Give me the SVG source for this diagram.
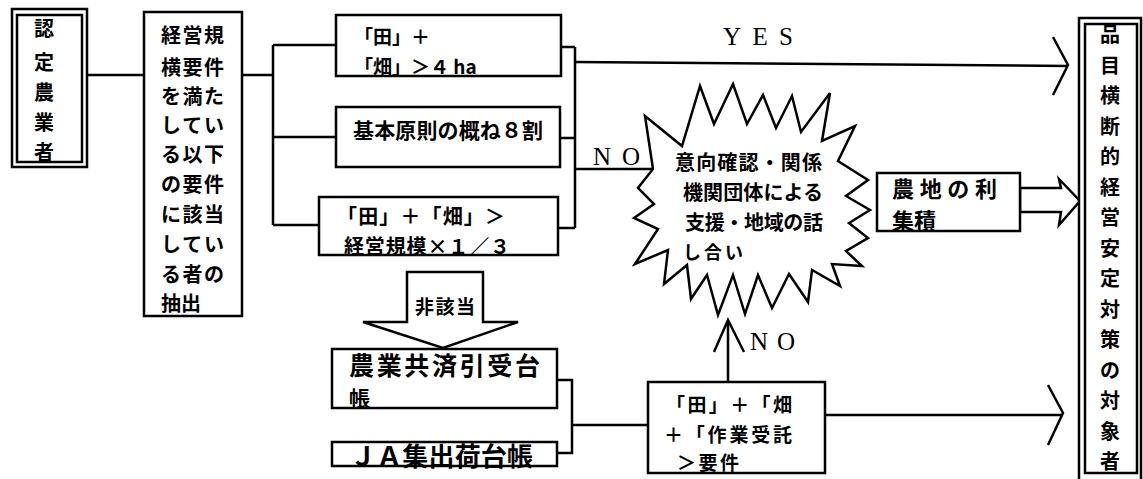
<svg xmlns="http://www.w3.org/2000/svg" width="1143" height="479" viewBox="0 0 1143 479">
<style>
.box{fill:#fff;stroke:#000;stroke-width:2.5}
.ln{fill:none;stroke:#000;stroke-width:2.5;stroke-linejoin:miter}
.jp{font-family:"Noto Sans CJK JP","Noto Sans CJK SC",sans-serif;font-weight:bold;fill:#000}
.lat{font-family:"Liberation Serif",serif;fill:#000}
</style>
<rect width="1143" height="479" fill="#fff"/>
<g id="connectors">
<path class="ln" d="M87,75 H145"/>
<path class="ln" d="M242,75 H273 M273,45 V225 M273,45 H337 M273,137 H336 M273,225 H319"/>
<path class="ln" d="M561,47 H575 M560,138 H575 M558,228 H575 M575,47 V228"/>
<path class="ln" d="M575,62 L1068,66 M1053,37 L1068,65 L1053,95"/>
<path class="ln" d="M575,169 H653"/>
<path class="ln" d="M557,380 H572 V453 H557 M572,425 H648"/>
<path class="ln" d="M728,382 V320 M714,352 L728,320 L744,352"/>
<path class="ln" d="M825,415 H1063 M1048,385 L1063,413 L1048,445"/>
<polygon class="box" points="407,272 483,272 483,322 518,322 443,348 363,322 407,322"/>
<polygon class="box" points="1020,188 1061,188 1059,179 1080,201 1059,225 1061,212 1020,212"/>
<text class="lat" x="723" y="45" font-size="25" textLength="70" lengthAdjust="spacing">YES</text>
<text class="lat" x="593" y="165" font-size="25" textLength="47" lengthAdjust="spacing">NO</text>
<text class="lat" x="750" y="350" font-size="25" textLength="45" lengthAdjust="spacing">NO</text>
<text class="jp" x="415" y="314" font-size="19" textLength="60">非該当</text>
</g>
<g id="node-nintei">
<rect class="box" x="12" y="9" width="75" height="158"/>
<rect class="ln" x="17" y="15" width="65" height="147"/>
<text class="jp" font-size="20" text-anchor="middle"><tspan x="44" y="36">認</tspan><tspan x="44" y="70">定</tspan><tspan x="44" y="100">農</tspan><tspan x="44" y="130">業</tspan><tspan x="44" y="160">者</tspan></text>
</g>
<g id="node-chushutsu">
<rect class="box" x="144" y="12" width="98" height="304"/>
<text class="jp" font-size="20"><tspan x="161" y="43" textLength="63">経営規</tspan><tspan x="161" y="75" textLength="63">横要件</tspan><tspan x="161" y="104" textLength="63">を満た</tspan><tspan x="161" y="133" textLength="63">してい</tspan><tspan x="161" y="162" textLength="63">る以下</tspan><tspan x="161" y="192" textLength="63">の要件</tspan><tspan x="161" y="222" textLength="63">に該当</tspan><tspan x="161" y="252" textLength="63">してい</tspan><tspan x="161" y="282" textLength="63">る者の</tspan><tspan x="161" y="311">抽出</tspan></text>
</g>
<g id="node-a">
<rect class="box" x="336" y="15" width="225" height="61"/>
<text class="jp" font-size="19"><tspan x="354" y="44">「田」＋</tspan><tspan x="354" y="74">「畑」＞４ ha</tspan></text>
</g>
<g id="node-b">
<rect class="box" x="336" y="107" width="224" height="60"/>
<text class="jp" x="353" y="138" font-size="21" textLength="190">基本原則の概ね８割</text>
</g>
<g id="node-c">
<rect class="box" x="319" y="197" width="239" height="58"/>
<text class="jp" font-size="20"><tspan x="337" y="224" textLength="168">「田」＋「畑」＞</tspan><tspan x="344" y="254" textLength="166">経営規模×１／３</tspan></text>
</g>
<g id="node-ikou">
<polygon class="box" points="653,169 645,116 682,146 700,86 714,124 733,84 747,124 763,95 776,128 792,96 801,132 830,93 822,141 855,126 838,161 868,180 846,196 870,210 849,223 868,238 846,251 862,266 832,264 840,286 812,270 808,302 789,274 772,308 758,275 745,314 733,275 718,315 707,275 691,299 687,265 664,284 668,250 635,264 658,229 634,218 654,204 638,188"/>
<text class="jp" font-size="20"><tspan x="675" y="170" textLength="147">意向確認・関係</tspan><tspan x="683" y="200" textLength="140">機関団体による</tspan><tspan x="685" y="230" textLength="138">支援・地域の話</tspan></text>
<text class="jp" x="683" y="259" font-size="18" textLength="60">し合い</text>
</g>
<g id="node-nouchi">
<rect class="box" x="877" y="173" width="143" height="58"/>
<text class="jp" font-size="22"><tspan x="892" y="197" textLength="105">農地の利</tspan><tspan x="892" y="229">集積</tspan></text>
</g>
<g id="node-taishousha">
<rect class="box" x="1079" y="18" width="62" height="470"/>
<rect class="ln" x="1085" y="24" width="52" height="449"/>
<text class="jp" font-size="20" text-anchor="middle"><tspan x="1110" y="42">品</tspan><tspan x="1110" y="72.5">目</tspan><tspan x="1110" y="103">横</tspan><tspan x="1110" y="133.5">断</tspan><tspan x="1110" y="164">的</tspan><tspan x="1110" y="194.5">経</tspan><tspan x="1110" y="225">営</tspan><tspan x="1110" y="255.5">安</tspan><tspan x="1110" y="286">定</tspan><tspan x="1110" y="316.5">対</tspan><tspan x="1110" y="347">策</tspan><tspan x="1110" y="377.5">の</tspan><tspan x="1110" y="408">対</tspan><tspan x="1110" y="438.5">象</tspan><tspan x="1110" y="469">者</tspan></text>
</g>
<g id="node-kyousai">
<rect class="box" x="332" y="349" width="225" height="59"/>
<text class="jp" x="349" y="375" font-size="25" textLength="191">農業共済引受台</text>
<text class="jp" x="349" y="406" font-size="21">帳</text>
</g>
<g id="node-ja">
<rect class="box" x="332" y="442" width="225" height="24"/>
<text class="jp" x="350" y="466" font-size="26" textLength="183">ＪＡ集出荷台帳</text>
</g>
<g id="node-d">
<rect class="box" x="648" y="382" width="177" height="91"/>
<text class="jp" font-size="19"><tspan x="666" y="412" textLength="126">「田」＋「畑</tspan><tspan x="664" y="442" textLength="128">＋「作業受託</tspan><tspan x="677" y="470" textLength="62">＞要件</tspan></text>
</g>
</svg>
